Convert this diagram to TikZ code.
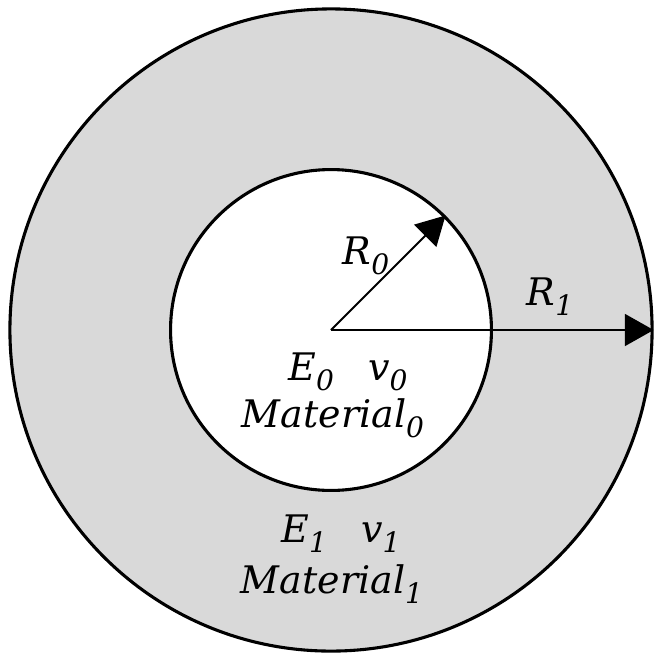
\documentclass[tikz,border=0pt]{standalone}
\usepackage{fontspec}
\setmainfont{DejaVu Serif}
\usetikzlibrary{arrows.meta}
\definecolor{ringgray}{RGB}{217,217,217}
\newcommand{\idx}[1]{\raisebox{-0.26em}{\fontsize{20}{20}\selectfont\itshape #1}}
\begin{document}
\begin{tikzpicture}[x=0.025cm,y=0.025cm]
\tikzstyle{disc}=[draw,circle,line width=2.2pt,inner sep=0pt]
\tikzstyle{lbl}=[font=\fontsize{27}{30}\selectfont\itshape,inner sep=0pt]
\useasboundingbox (-331,-324) rectangle (325,330);
\coordinate (c) at (0,0);
\node[disc,fill=ringgray,minimum size=16.05cm] (outer) at (c) {};
\node[disc,fill=white,minimum size=8.02cm] (inner) at (c) {};
\draw[->,>={Triangle[length=0.72cm,width=0.78cm]},line width=1.3pt] (c) -- (inner.45);
\draw[->,>={Triangle[length=0.72cm,width=0.8cm]},line width=1.3pt] (c) -- (outer.east);
\node[lbl] (r0) at (35,74) {R\idx{0}};
\node[lbl] (r1) at (219,33) {R\idx{1}};
\node[lbl] (prop0) at (17,-42) {E\idx{0}\hspace{0.9em}v\idx{0}};
\node[lbl] (mat0) at (2,-88) {Material\idx{0}};
\node[lbl] (prop1) at (10,-204) {E\idx{1}\hspace{0.9em}v\idx{1}};
\node[lbl] (mat1) at (1,-254) {Material\idx{1}};
\end{tikzpicture}
\end{document}
